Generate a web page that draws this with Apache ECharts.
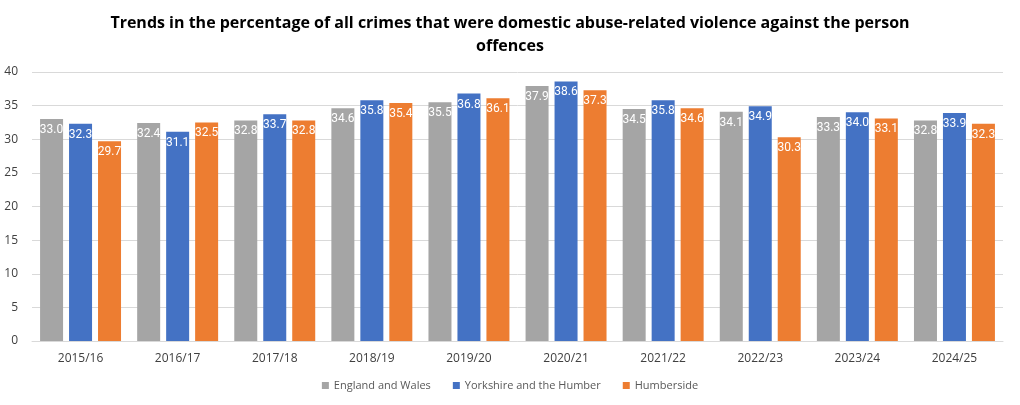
<!DOCTYPE html>
<html>
<head>
<meta charset="utf-8">
<script src="https://cdn.jsdelivr.net/npm/echarts@6/dist/echarts.min.js"></script>
<style>
  html, body { margin: 0; padding: 0; background: #fff; }
  #chart { width: 1020px; height: 405px; }
</style>
</head>
<body>
<div id="chart"></div>
<script>
var years = ["2015/16", "2016/17", "2017/18", "2018/19", "2019/20", "2020/21", "2021/22", "2022/23", "2023/24", "2024/25"];
var englandWales = [33.0, 32.4, 32.8, 34.6, 35.5, 37.9, 34.5, 34.1, 33.3, 32.8];
var yorkshire = [32.3, 31.1, 33.7, 35.8, 36.8, 38.6, 35.8, 34.9, 34.0, 33.9];
var humberside = [29.7, 32.5, 32.8, 35.4, 36.1, 37.3, 34.6, 30.3, 33.1, 32.3];

var chart = echarts.init(document.getElementById("chart"));
var font = "Open Sans";

function makeSeries(name, data, color) {
  return {
    name: name,
    type: "bar",
    data: data,
    barWidth: 23,
    barGap: "26%",
    itemStyle: { color: color },
    label: {
      show: true,
      position: "insideTop",
      distance: 5,
      color: "#fff",
      fontFamily: "Roboto",
      fontSize: 12,
      formatter: function (p) { return p.value.toFixed(1); }
    }
  };
}

var option = {
  animation: false,
  color: ["#A5A5A5", "#4472C4", "#ED7D31"],
  title: {
    text: "Trends in the percentage of all crimes that were domestic abuse-related violence against the person\noffences",
    left: "center",
    top: 7,
    textStyle: {
      fontFamily: font,
      fontWeight: "bold",
      fontSize: 16,
      lineHeight: 23,
      color: "#000"
    }
  },
  legend: {
    bottom: 9,
    left: "center",
    itemWidth: 7,
    itemHeight: 7,
    itemGap: 22,
    icon: "rect",
    textStyle: { fontFamily: font, fontSize: 11, color: "#595959" },
    data: ["England and Wales", "Yorkshire and the Humber", "Humberside"]
  },
  grid: { left: 32, right: 17, top: 72, bottom: 64 },
  xAxis: {
    type: "category",
    data: years,
    axisTick: { show: false },
    axisLine: { lineStyle: { color: "#d9d9d9", width: 1 } },
    axisLabel: { color: "#404040", fontFamily: font, fontSize: 12, margin: 12 }
  },
  yAxis: {
    type: "value",
    min: 0,
    max: 40,
    interval: 5,
    axisLine: { show: false },
    axisTick: { show: false },
    splitLine: { lineStyle: { color: "#d9d9d9" } },
    axisLabel: { color: "#404040", fontFamily: font, fontSize: 12, margin: 14 }
  },
  series: [
    makeSeries("England and Wales", englandWales, "#A5A5A5"),
    makeSeries("Yorkshire and the Humber", yorkshire, "#4472C4"),
    makeSeries("Humberside", humberside, "#ED7D31")
  ]
};
chart.setOption(option);
</script>
</body>
</html>
